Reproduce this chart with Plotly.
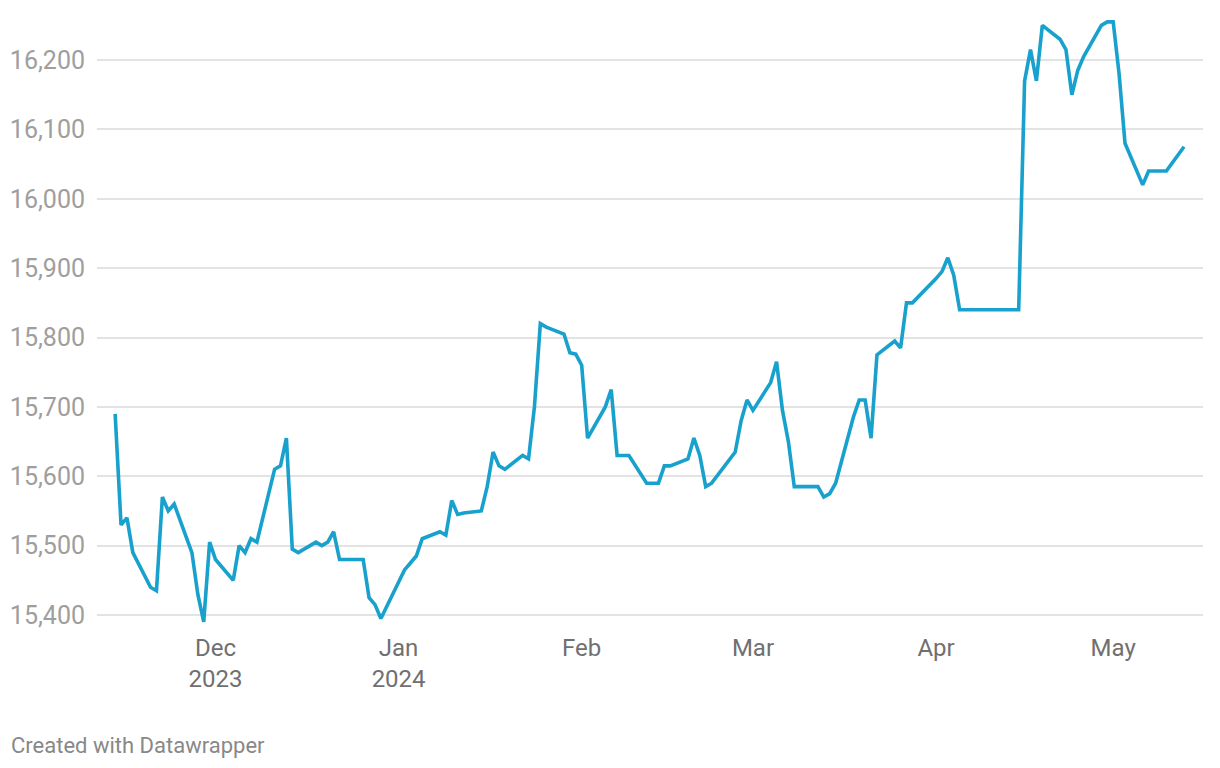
import plotly.graph_objects as go

dates = [
    "2023-11-14", "2023-11-15", "2023-11-16", "2023-11-17", "2023-11-20", "2023-11-21",
    "2023-11-22", "2023-11-23", "2023-11-24", "2023-11-27", "2023-11-28", "2023-11-29",
    "2023-11-30", "2023-12-01", "2023-12-04", "2023-12-05", "2023-12-06", "2023-12-07",
    "2023-12-08", "2023-12-11", "2023-12-12", "2023-12-13", "2023-12-14", "2023-12-15",
    "2023-12-18", "2023-12-19", "2023-12-20", "2023-12-21", "2023-12-22", "2023-12-26",
    "2023-12-27", "2023-12-28", "2023-12-29", "2024-01-02", "2024-01-03", "2024-01-04",
    "2024-01-05", "2024-01-08", "2024-01-09", "2024-01-10", "2024-01-11", "2024-01-12",
    "2024-01-15", "2024-01-16", "2024-01-17", "2024-01-18", "2024-01-19", "2024-01-22",
    "2024-01-23", "2024-01-24", "2024-01-25", "2024-01-26", "2024-01-29", "2024-01-30",
    "2024-01-31", "2024-02-01", "2024-02-02", "2024-02-05", "2024-02-06", "2024-02-07",
    "2024-02-09", "2024-02-12", "2024-02-14", "2024-02-15", "2024-02-16", "2024-02-19",
    "2024-02-20", "2024-02-21", "2024-02-22", "2024-02-23", "2024-02-27", "2024-02-28",
    "2024-02-29", "2024-03-01", "2024-03-04", "2024-03-05", "2024-03-06", "2024-03-07",
    "2024-03-08", "2024-03-12", "2024-03-13", "2024-03-14", "2024-03-15", "2024-03-18",
    "2024-03-19", "2024-03-20", "2024-03-21", "2024-03-22", "2024-03-25", "2024-03-26",
    "2024-03-27", "2024-03-28", "2024-04-01", "2024-04-02", "2024-04-03", "2024-04-04",
    "2024-04-05", "2024-04-15", "2024-04-16", "2024-04-17", "2024-04-18", "2024-04-19",
    "2024-04-22", "2024-04-23", "2024-04-24", "2024-04-25", "2024-04-26", "2024-04-29",
    "2024-04-30", "2024-05-01", "2024-05-02", "2024-05-03", "2024-05-06", "2024-05-07",
    "2024-05-10", "2024-05-13",
]

values = [
    15690, 15530, 15540, 15490, 15440, 15435,
    15570, 15550, 15560, 15490, 15430, 15390,
    15505, 15480, 15450, 15500, 15490, 15510,
    15505, 15610, 15615, 15655, 15495, 15490,
    15505, 15500, 15505, 15520, 15480, 15480,
    15425, 15415, 15395, 15465, 15475, 15485,
    15510, 15520, 15515, 15565, 15545, 15547,
    15550, 15585, 15635, 15615, 15610, 15630,
    15625, 15700, 15820, 15815, 15805, 15778,
    15776, 15760, 15655, 15700, 15725, 15630,
    15630, 15590, 15590, 15615, 15615, 15625,
    15655, 15630, 15585, 15590, 15635, 15680,
    15710, 15695, 15735, 15765, 15695, 15650,
    15585, 15585, 15570, 15575, 15590, 15685,
    15710, 15710, 15655, 15775, 15795, 15785,
    15850, 15850, 15885, 15895, 15915, 15890,
    15840, 15840, 16170, 16215, 16170, 16250,
    16230, 16215, 16150, 16185, 16205, 16250,
    16255, 16255, 16180, 16080, 16020, 16040,
    16040, 16075,
]

x_tick_vals = ["2023-12-01", "2024-01-01", "2024-02-01", "2024-03-01", "2024-04-01", "2024-05-01"]
x_tick_text = ["Dec<br>2023", "Jan<br>2024", "Feb", "Mar", "Apr", "May"]
y_tick_vals = [15400, 15500, 15600, 15700, 15800, 15900, 16000, 16100, 16200]
y_tick_text = ["15,400", "15,500", "15,600", "15,700", "15,800", "15,900", "16,000", "16,100", "16,200"]

fig = go.Figure()
fig.add_trace(go.Scatter(
    x=dates, y=values, mode="lines",
    line=dict(color="#18a1cd", width=3.6),
    hoverinfo="skip",
))

fig.update_layout(
    width=1220, height=768,
    margin=dict(l=85, r=25, t=2, b=151),
    paper_bgcolor="white", plot_bgcolor="white",
    showlegend=False,
    font=dict(family="Roboto", size=22, color="#9a9a9a"),
    xaxis=dict(
        range=["2023-11-10 22:19", "2024-05-16 05:00"],
        tickvals=x_tick_vals, ticktext=x_tick_text,
        showgrid=False, zeroline=False, showline=False,
        ticks="", tickfont=dict(size=24, color="#707070"),
        ticklabelstandoff=6,
    ),
    yaxis=dict(
        range=[15385.6, 16272.1],
        tickvals=y_tick_vals, ticktext=y_tick_text,
        showgrid=True, gridcolor="#e3e3e3", gridwidth=1.5,
        zeroline=False, showline=False, ticks="",
        tickfont=dict(size=25, color="#9e9e9e"),
        ticklabelstandoff=11,
    ),
    annotations=[dict(
        text="Created with Datawrapper",
        xref="paper", yref="paper",
        x=(-3 - 85) / 1110, y=(617 - 737) / 615,
        xanchor="left", yanchor="middle", showarrow=False,
        font=dict(family="Roboto", size=22, color="#888888"),
    )],
)

fig.write_html("out.html")
